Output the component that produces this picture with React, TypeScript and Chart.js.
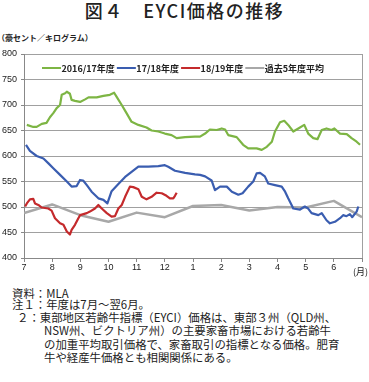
import React, { useEffect, useRef } from "react";
import { Chart, registerables } from "chart.js";

Chart.register(...registerables);

// ---- categories / tick labels ----
const monthLabels = ["7", "8", "9", "10", "11", "12", "1", "2", "3", "4", "5", "6"];
const seriesNames = ["2016/17年度", "17/18年度", "18/19年度", "過去5年度平均"];
const seriesColors = ["#7db544", "#3a5db0", "#c42a2c", "#a8a8a8"];

// ---- series values (x = months since start of July, y = AU cents/kg) ----
const fy1617X = [0.1, 0.33, 0.45, 0.63, 0.8, 0.92, 1.04, 1.16, 1.28, 1.34, 1.46, 1.52, 1.63, 1.69, 1.81, 1.99, 2.17, 2.29, 2.58, 2.82, 3.05, 3.2, 3.29, 3.47, 3.64, 3.82, 4.06, 4.35, 4.53, 4.77, 5.0, 5.24, 5.42, 5.72, 6.07, 6.25, 6.43, 6.6, 6.84, 7.02, 7.14, 7.25, 7.55, 7.78, 7.96, 8.26, 8.44, 8.62, 8.8, 8.91, 9.09, 9.24, 9.38, 9.56, 9.74, 9.95, 10.09, 10.27, 10.42, 10.57, 10.74, 10.92, 11.02, 11.22, 11.46, 11.63, 11.81, 11.93];
const fy1617Y = [661, 657, 657, 663, 665, 676, 684, 694, 700, 720, 723, 726, 722, 710, 708, 706, 711, 715, 715, 718, 720, 724, 716, 700, 684, 667, 661, 656, 650, 648, 644, 641, 635, 637, 638, 638, 644, 652, 651, 654, 652, 641, 637, 622, 615, 615, 612, 618, 628, 648, 666, 669, 661, 648, 654, 661, 644, 635, 633, 651, 654, 651, 654, 644, 643, 635, 628, 622];

const fy1718X = [0.07, 0.21, 0.45, 0.69, 0.86, 1.04, 1.28, 1.52, 1.69, 1.87, 1.99, 2.1, 2.23, 2.4, 2.64, 2.82, 2.96, 3.11, 3.35, 3.59, 3.82, 4.06, 4.41, 4.77, 5.0, 5.12, 5.36, 5.72, 6.07, 6.25, 6.43, 6.66, 6.78, 6.96, 7.2, 7.38, 7.61, 7.76, 7.96, 8.14, 8.26, 8.38, 8.55, 8.67, 8.91, 9.15, 9.27, 9.38, 9.5, 9.56, 9.8, 9.97, 10.09, 10.21, 10.45, 10.57, 10.74, 10.86, 11.04, 11.22, 11.33, 11.45, 11.57, 11.65, 11.81, 11.87];
const fy1718Y = [622, 610, 600, 595, 586, 576, 563, 550, 540, 541, 553, 552, 543, 530, 517, 514, 507, 531, 545, 559, 569, 579, 579, 580, 582, 579, 571, 567, 564, 563, 560, 552, 533, 540, 540, 530, 524, 527, 540, 550, 566, 567, 560, 546, 543, 540, 530, 517, 504, 497, 495, 501, 497, 488, 484, 488, 474, 468, 471, 478, 484, 482, 486, 480, 491, 501];

const fy1819X = [0.04, 0.1, 0.21, 0.33, 0.39, 0.51, 0.63, 0.86, 0.98, 1.1, 1.28, 1.4, 1.52, 1.63, 1.69, 1.81, 1.93, 1.99, 2.23, 2.34, 2.52, 2.64, 2.76, 2.94, 3.11, 3.23, 3.35, 3.47, 3.59, 3.76, 3.88, 4.06, 4.18, 4.35, 4.53, 4.71, 4.89, 5.06, 5.18, 5.3, 5.36, 5.42];
const fy1819Y = [501, 507, 515, 516, 507, 504, 499, 497, 493, 478, 468, 465, 452, 446, 455, 465, 478, 484, 488, 491, 497, 504, 497, 488, 481, 482, 497, 504, 520, 540, 539, 535, 520, 515, 520, 528, 527, 522, 517, 517, 522, 528];

const avg5X = [0, 1, 2, 3, 4, 5, 6, 7, 8, 9, 10, 11, 12];
const avg5Y = [488, 505, 484, 471, 489, 480, 502, 504, 493, 500, 499, 512, 480];

const yMin = 400;
const yMax = 800;
const yStep = 50;

const toPoints = (xs: number[], ys: number[]) => xs.map((x, i) => ({ x, y: ys[i] }));

const legendPlugin = {
  id: "inlineLegend",
  afterDatasetsDraw(chart: any) {
    const { ctx, chartArea } = chart;
    ctx.save();
    ctx.font = 'bold 9px "Noto Sans CJK JP"';
    ctx.textBaseline = "middle";
    ctx.textAlign = "left";
    let x = chartArea.left + 18;
    const y = chartArea.top + 14;
    chart.data.datasets.forEach((ds: any) => {
      ctx.strokeStyle = ds.borderColor;
      ctx.lineWidth = 2;
      ctx.beginPath();
      ctx.moveTo(x, y);
      ctx.lineTo(x + 19, y);
      ctx.stroke();
      x += 19.5;
      ctx.fillStyle = "#222";
      ctx.fillText(ds.label, x, y + 0.5);
      x += ctx.measureText(ds.label).width + 2;
    });
    ctx.restore();
  },
};

function EyciChart() {
  const ref = useRef<HTMLCanvasElement | null>(null);
  useEffect(() => {
    if (!ref.current) return;
    const chart = new Chart(ref.current, {
      type: "line",
      data: {
        datasets: [
          { label: seriesNames[0], data: toPoints(fy1617X, fy1617Y), borderColor: seriesColors[0], borderWidth: 2.2 },
          { label: seriesNames[1], data: toPoints(fy1718X, fy1718Y), borderColor: seriesColors[1], borderWidth: 2.2 },
          { label: seriesNames[2], data: toPoints(fy1819X, fy1819Y), borderColor: seriesColors[2], borderWidth: 2.2 },
          { label: seriesNames[3], data: toPoints(avg5X, avg5Y), borderColor: seriesColors[3], borderWidth: 2.5 },
        ] as any,
      },
      options: {
        responsive: false,
        devicePixelRatio: 1,
        animation: false,
        elements: {
          point: { radius: 0, hoverRadius: 0 },
          line: { tension: 0, fill: false, borderJoinStyle: "round" },
        },
        layout: { padding: { top: 10, right: 7, left: 0, bottom: 0 } },
        plugins: {
          legend: { display: false },
          tooltip: { enabled: false },
          title: { display: false },
        },
        scales: {
          x: {
            type: "linear",
            min: 0,
            max: 12,
            afterFit: (scale: any) => {
              scale.height = 22;
            },
            ticks: {
              stepSize: 1,
              autoSkip: false,
              maxRotation: 0,
              padding: 0,
              color: "#222",
              font: { family: '"Liberation Sans", Arial, sans-serif', size: 9 },
              callback: (v: any) => (monthLabels[Number(v)] !== undefined ? monthLabels[Number(v)] : ""),
            },
            grid: {
              drawOnChartArea: true,
              color: (c: any) => (c.tick && c.tick.value === 12 ? "#a0a0a0" : "rgba(0,0,0,0)"),
              tickColor: "#888",
              tickLength: 4,
            },
            border: { color: "#888", width: 1 },
          },
          y: {
            min: yMin,
            max: yMax,
            afterFit: (scale: any) => {
              scale.width = 24;
            },
            ticks: {
              stepSize: yStep,
              padding: 4,
              color: "#222",
              font: { family: '"Liberation Sans", Arial, sans-serif', size: 9 },
            },
            grid: { color: "#a0a0a0", tickLength: 3, tickColor: "#888" },
            border: { color: "#888", width: 1 },
          },
        },
      } as any,
      plugins: [legendPlugin],
    });
    return () => chart.destroy();
  }, []);
  return (
    <canvas
      ref={ref}
      width={369}
      height={236}
      style={{ position: "absolute", left: 0, top: 44, width: 369, height: 236, display: "block" }}
    />
  );
}

const cjk = '"Noto Sans CJK JP", "Noto Sans", sans-serif';

const noteLine = (text: string, left: number, centerY: number) => (
  <div
    style={{
      position: "absolute",
      left,
      top: centerY - 6,
      fontFamily: cjk,
      fontSize: 11.4,
      lineHeight: "12px",
      color: "#222",
      whiteSpace: "nowrap",
    }}
  >
    {text}
  </div>
);

export default function App() {
  return (
    <div style={{ position: "absolute", left: 0, top: 0, width: 369, height: 382, background: "#fff", overflow: "hidden" }}>
      <div
        style={{
          position: "absolute",
          left: 0,
          width: 369,
          top: 1,
          textAlign: "center",
          fontFamily: cjk,
          fontSize: 18,
          fontWeight: 500,
          letterSpacing: "1.5px",
          lineHeight: "18px",
          color: "#222",
          whiteSpace: "nowrap",
        }}
      >
        図４　EYCI価格の推移
      </div>
      <div
        style={{
          position: "absolute",
          left: -3,
          top: 34,
          fontFamily: cjk,
          fontSize: 8,
          fontWeight: "bold",
          lineHeight: "8px",
          color: "#222",
          whiteSpace: "nowrap",
        }}
      >
        （豪セント／キログラム）
      </div>
      <EyciChart />
      <div
        style={{
          position: "absolute",
          left: 353,
          top: 267,
          fontFamily: cjk,
          fontSize: 9,
          lineHeight: "9px",
          color: "#222",
          whiteSpace: "nowrap",
        }}
      >
        (月)
      </div>
      {noteLine("資料：MLA", 12, 292.7)}
      {noteLine("注１：年度は7月～翌6月。", 12, 303.5)}
      {noteLine("２：東部地区若齢牛指標（EYCI）価格は、東部３州（QLD州、", 17, 316.7)}
      {noteLine("NSW州、ビクトリア州）の主要家畜市場における若齢牛", 44, 330)}
      {noteLine("の加重平均取引価格で、家畜取引の指標となる価格。肥育", 44, 344)}
      {noteLine("牛や経産牛価格とも相関関係にある。", 44, 357.3)}
    </div>
  );
}
